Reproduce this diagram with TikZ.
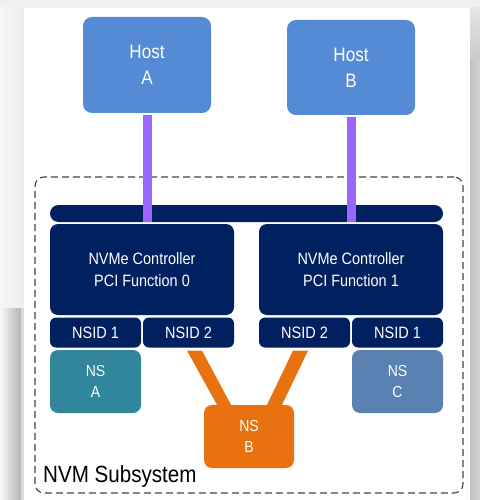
\documentclass[tikz,border=0pt]{standalone}
\usepackage{fontspec}
\setmainfont{Liberation Sans}[FakeStretch=0.88]
\usetikzlibrary{calc}
\definecolor{hostblue}{RGB}{85,138,212}
\definecolor{navy}{RGB}{0,32,96}
\definecolor{teal}{RGB}{49,134,155}
\definecolor{nscblue}{RGB}{91,128,178}
\definecolor{nsorange}{RGB}{232,113,16}
\definecolor{linkpurple}{RGB}{153,102,255}
\definecolor{frame}{RGB}{68,68,68}
\begin{document}
\begin{tikzpicture}[x=1bp,y=-1bp,
  blk/.style={rectangle, rounded corners=8bp, inner sep=0pt, text=white, align=center},
  hostbox/.style={blk, fill=hostblue, minimum width=128bp, minimum height=96bp,
    rounded corners=9bp, font=\fontsize{19.5}{26}\selectfont},
  ctrlbox/.style={blk, fill=navy, minimum width=184bp, minimum height=91bp,
    font=\fontsize{16.5}{22}\selectfont},
  nsidbox/.style={blk, fill=navy, minimum width=91bp, minimum height=30bp,
    rounded corners=6bp, font=\fontsize{16.5}{20}\selectfont},
  nsbox/.style={blk, minimum width=91bp, minimum height=63bp,
    font=\fontsize{16}{21}\selectfont},
  hostlink/.style={draw=linkpurple, line width=9bp},
  nslink/.style={fill=nsorange}]
\useasboundingbox (0,0) rectangle (480,500);

% page and its drop shadow
\fill[gray!12] (0,0) rectangle (480,500);
\shade[left color=gray!6, right color=gray!14] (0,8) rectangle (24,308);
\shade[left color=gray!5, right color=gray!60] (0,308) rectangle (21,500);
\fill[gray!30] (21,308) rectangle (24,500);
\shade[top color=gray!20, bottom color=gray!42] (470,8) rectangle (480,60);
\shade[left color=gray!48, right color=gray!36] (470,60) rectangle (480,500);
\fill[white] (24,8) rectangle (470,500);

% subsystem frame
\node[draw=frame, line width=1.1bp, dash pattern=on 7bp off 4bp, rounded corners=9bp,
  minimum width=428bp, minimum height=316bp, inner sep=0pt] (subsys) at (249,335) {};
\node[anchor=base west, inner sep=0pt, font=\fontsize{23.5}{28}\selectfont] (subsyslabel)
  at (43,482) {NVM Subsystem};

% hosts
\node[hostbox] (hA) at (147,65) {Host\\A};
\node[hostbox, minimum height=95bp] (hB) at (351,67.5) {Host\\B};

% shared bus and controllers
\node[blk, fill=navy, minimum width=393bp, minimum height=17bp, rounded corners=8.5bp] (bus)
  at (246.5,213.5) {};
\node[ctrlbox] (c0) at (142,269.5) {NVMe Controller\\PCI Function 0};
\node[ctrlbox] (c1) at (351,269.5) {NVMe Controller\\PCI Function 1};

% namespace IDs
\node[nsidbox] (n1l) at (95.5,332.5) {NSID 1};
\node[nsidbox] (n2l) at (188.5,332.5) {NSID 2};
\node[nsidbox] (n2r) at (304.5,332.5) {NSID 2};
\node[nsidbox] (n1r) at (397.5,332.5) {NSID 1};

% host links
\draw[hostlink] ([yshift=-2bp]hA.south) -- (hA.south |- bus.south);
\draw[hostlink] ([yshift=-2bp]hB.south) -- (hB.south |- bus.south);

% namespaces
\node[nsbox, fill=teal] (nsa) at (95.5,381.5) {NS\\A};
\node[nsbox, fill=nscblue] (nsc) at (397.5,381.5) {NS\\C};
\node[nsbox, fill=nsorange, minimum width=90bp] (nsb) at (249,436.5) {NS\\B};

% shared namespace links
\fill[nslink] ($(n2l.south)+(-1.5,3)$) -- ($(n2l.south)+(13.5,3)$)
  -- ($(nsb.north)+(-18,0)$) -- ($(nsb.north)+(-32,0)$) -- cycle;
\fill[nslink] ($(n2r.south)+(-11.5,3)$) -- ($(n2r.south)+(3.5,3)$)
  -- ($(nsb.north)+(33,0)$) -- ($(nsb.north)+(18,0)$) -- cycle;
\end{tikzpicture}
\end{document}
